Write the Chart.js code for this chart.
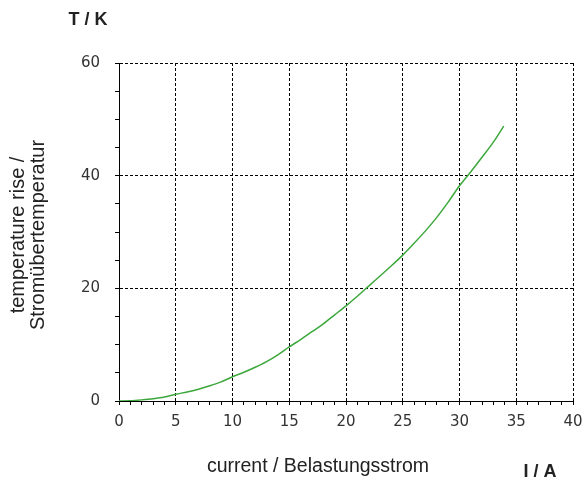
<!DOCTYPE html>
<html>
<head>
    <title>Temperature rise vs current</title>
    <script src="https://cdn.jsdelivr.net/npm/chart.js"></script>
    <style>
        body {
            margin: 0;
            background: white;
        }
        canvas {
            display: block;
        }
    </style>
</head>
<body>
    <canvas id="riseChart" width="584" height="484"></canvas>

    <script>
        // Values
        const currentA = [0, 1, 2, 3, 4, 5, 6, 7, 8, 9, 10, 11, 12, 13, 14, 15, 16, 17,
                          18, 19, 20, 21, 22, 23, 24, 25, 26, 27, 28, 29, 30, 31, 32, 33, 33.9];
        const riseK = [0, 0.05, 0.2, 0.4, 0.7, 1.2, 1.6, 2.1, 2.7, 3.4, 4.3, 5.1, 6.0, 7.0, 8.2, 9.6, 10.9, 12.3,
                       13.7, 15.3, 16.9, 18.6, 20.4, 22.2, 24.0, 25.9, 28.0, 30.2, 32.6, 35.3, 38.2, 40.7, 43.3, 46.0, 48.8];
        const xLabels = [0, 5, 10, 15, 20, 25, 30, 35, 40];
        const yLabels = [0, 20, 40, 60];

        const points = currentA.map((x, i) => ({ x: x, y: riseK[i] }));

        // Plain texts placed around the plot
        const textPlugin = {
            id: 'texts',
            afterDraw(chart) {
                const ctx = chart.ctx;
                ctx.save();
                ctx.fillStyle = '#222';
                ctx.textAlign = 'center';
                ctx.textBaseline = 'middle';

                ctx.font = 'bold 18px "Liberation Sans", Arial, sans-serif';
                ctx.fillText('T / K', 88, 20);
                ctx.fillText('I / A', 540, 472);

                ctx.font = '19.5px "Liberation Sans", Arial, sans-serif';
                ctx.fillText('current / Belastungsstrom', 318, 467);

                ctx.font = '20px "Liberation Sans", Arial, sans-serif';
                ctx.translate(28, 235);
                ctx.rotate(-Math.PI / 2);
                ctx.fillText('temperature rise /', 0, -10);
                ctx.fillText('Stromübertemperatur', 0, 10);
                ctx.restore();
            }
        };

        const tickFont = { family: '"DejaVu Sans", Verdana, sans-serif', size: 15 };

        const ctx = document.getElementById('riseChart').getContext('2d');
        const chart = new Chart(ctx, {
            type: 'line',
            data: {
                datasets: [{
                    data: points,
                    borderColor: 'rgb(60, 168, 60)',
                    borderWidth: 1.5,
                    pointRadius: 0,
                    tension: 0.3,
                    fill: false
                }]
            },
            options: {
                responsive: false,
                animation: false,
                layout: {
                    padding: { left: 0, right: 11, top: 63, bottom: 0 }
                },
                plugins: {
                    legend: { display: false },
                    tooltip: { enabled: false }
                },
                scales: {
                    x: {
                        type: 'linear',
                        min: 0,
                        max: 40,
                        afterFit: (scale) => {
                            scale.height = 83;
                            scale.paddingLeft = 0;
                            scale.paddingRight = 0;
                        },
                        ticks: {
                            stepSize: 1,
                            autoSkip: false,
                            maxRotation: 0,
                            padding: 8,
                            color: '#333',
                            font: tickFont,
                            callback: (v) => xLabels.includes(v) ? String(v) : ''
                        },
                        grid: {
                            color: (c) => (c.tick && c.tick.value % 5 === 0) ? '#000' : 'rgba(0,0,0,0)',
                            tickColor: '#000',
                            tickLength: 4,
                            lineWidth: 1
                        },
                        border: { color: '#000', width: 1, dash: [3, 2] }
                    },
                    y: {
                        type: 'linear',
                        min: 0,
                        max: 60,
                        afterFit: (scale) => {
                            scale.width = 119;
                            scale.paddingTop = 0;
                            scale.paddingBottom = 0;
                        },
                        ticks: {
                            stepSize: 5,
                            autoSkip: false,
                            padding: 15,
                            color: '#333',
                            font: tickFont,
                            callback: (v) => yLabels.includes(v) ? String(v) : ''
                        },
                        grid: {
                            color: (c) => (c.tick && c.tick.value % 20 === 0) ? '#000' : 'rgba(0,0,0,0)',
                            tickColor: '#000',
                            tickLength: 4,
                            lineWidth: 1
                        },
                        border: { color: '#000', width: 1, dash: [3, 2] }
                    }
                }
            },
            plugins: [textPlugin]
        });
    </script>
</body>
</html>
